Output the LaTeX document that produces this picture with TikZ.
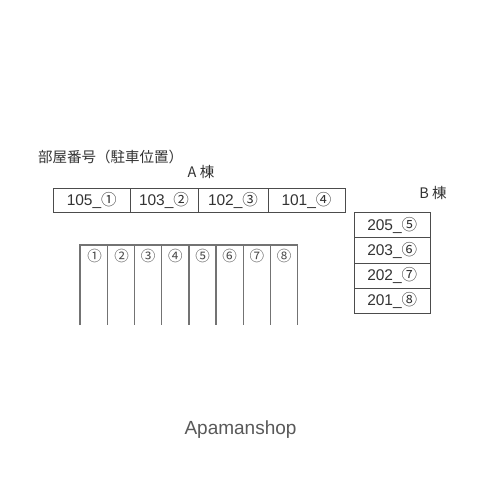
\documentclass[tikz,border=0pt]{standalone}
\usepackage{fontspec}
\setmainfont{Liberation Sans}
\newfontfamily\cjk{Noto Sans CJK JP}
\newcommand{\circnum}[1]{{\cjk\fontsize{15.5}{15.5}\selectfont #1}}
\begin{document}
\begin{tikzpicture}[x=1pt,y=-1pt,
  boxline/.style={draw=black!70,line width=0.8pt},
  lotline/.style={draw=black!55,line width=1.4pt},
  roomlbl/.style={font=\fontsize{15.5}{15.5}\selectfont,text=black!80,inner sep=0pt,anchor=center},
  lotnum/.style={font=\cjk\fontsize{14.5}{14.5}\selectfont,text=black!70,inner sep=0pt},
  title/.style={font=\cjk\fontsize{14.5}{14.5}\selectfont,text=black!80,inner sep=0pt}]
\useasboundingbox (0,0) rectangle (480,480);
\fill[white] (0,0) rectangle (480,480);
% titles
\node[title,anchor=west] (ttl) at (38,156.5) {部屋番号（駐車位置）};
\node[title,anchor=center] (abld) at (201,172) {A 棟};
\node[title,anchor=center] (bbld) at (433,193) {B 棟};
% A building
\draw[boxline] (53.5,188) rectangle (345,212.5);
\foreach \x in {130,198,268}{\draw[boxline] (\x,188) -- (\x,212.5);}
\node[roomlbl] (a1) at (91.75,200.5) {105\_\circnum{①}};
\node[roomlbl] (a2) at (164,200.5) {103\_\circnum{②}};
\node[roomlbl] (a3) at (233,200.5) {102\_\circnum{③}};
\node[roomlbl] (a4) at (306.5,200.5) {101\_\circnum{④}};
% B building
\draw[boxline] (354,212.5) rectangle (430.5,313);
\foreach \y in {237.7,263.2,288.2}{\draw[boxline] (354,\y) -- (430.5,\y);}
\node[roomlbl] (b1) at (392.25,225) {205\_\circnum{⑤}};
\node[roomlbl] (b2) at (392.25,250.5) {203\_\circnum{⑥}};
\node[roomlbl] (b3) at (392.25,275.7) {202\_\circnum{⑦}};
\node[roomlbl] (b4) at (392.25,300.6) {201\_\circnum{⑧}};
% parking
\draw[lotline] (80,325) -- (80,245) -- (297.7,245) -- (297.7,325);
\foreach \i/\x in {1/107.3,2/134.5,3/161.7,4/188.9,5/216.1,6/243.3,7/270.5}{\draw[lotline] (\x,245) -- (\x,325);}
\foreach \i/\c/\x in {1/①/94.5,2/②/121.5,3/③/148.1,4/④/175.3,5/⑤/202.5,6/⑥/229.7,7/⑦/256.9,8/⑧/284.1}{\node[lotnum] (p\i) at (\x,256) {\c};}
% footer
\node[font=\fontsize{19}{19}\selectfont,text=black!65,inner sep=0pt] (brand) at (240.5,430) {Apamanshop};
\end{tikzpicture}
\end{document}
